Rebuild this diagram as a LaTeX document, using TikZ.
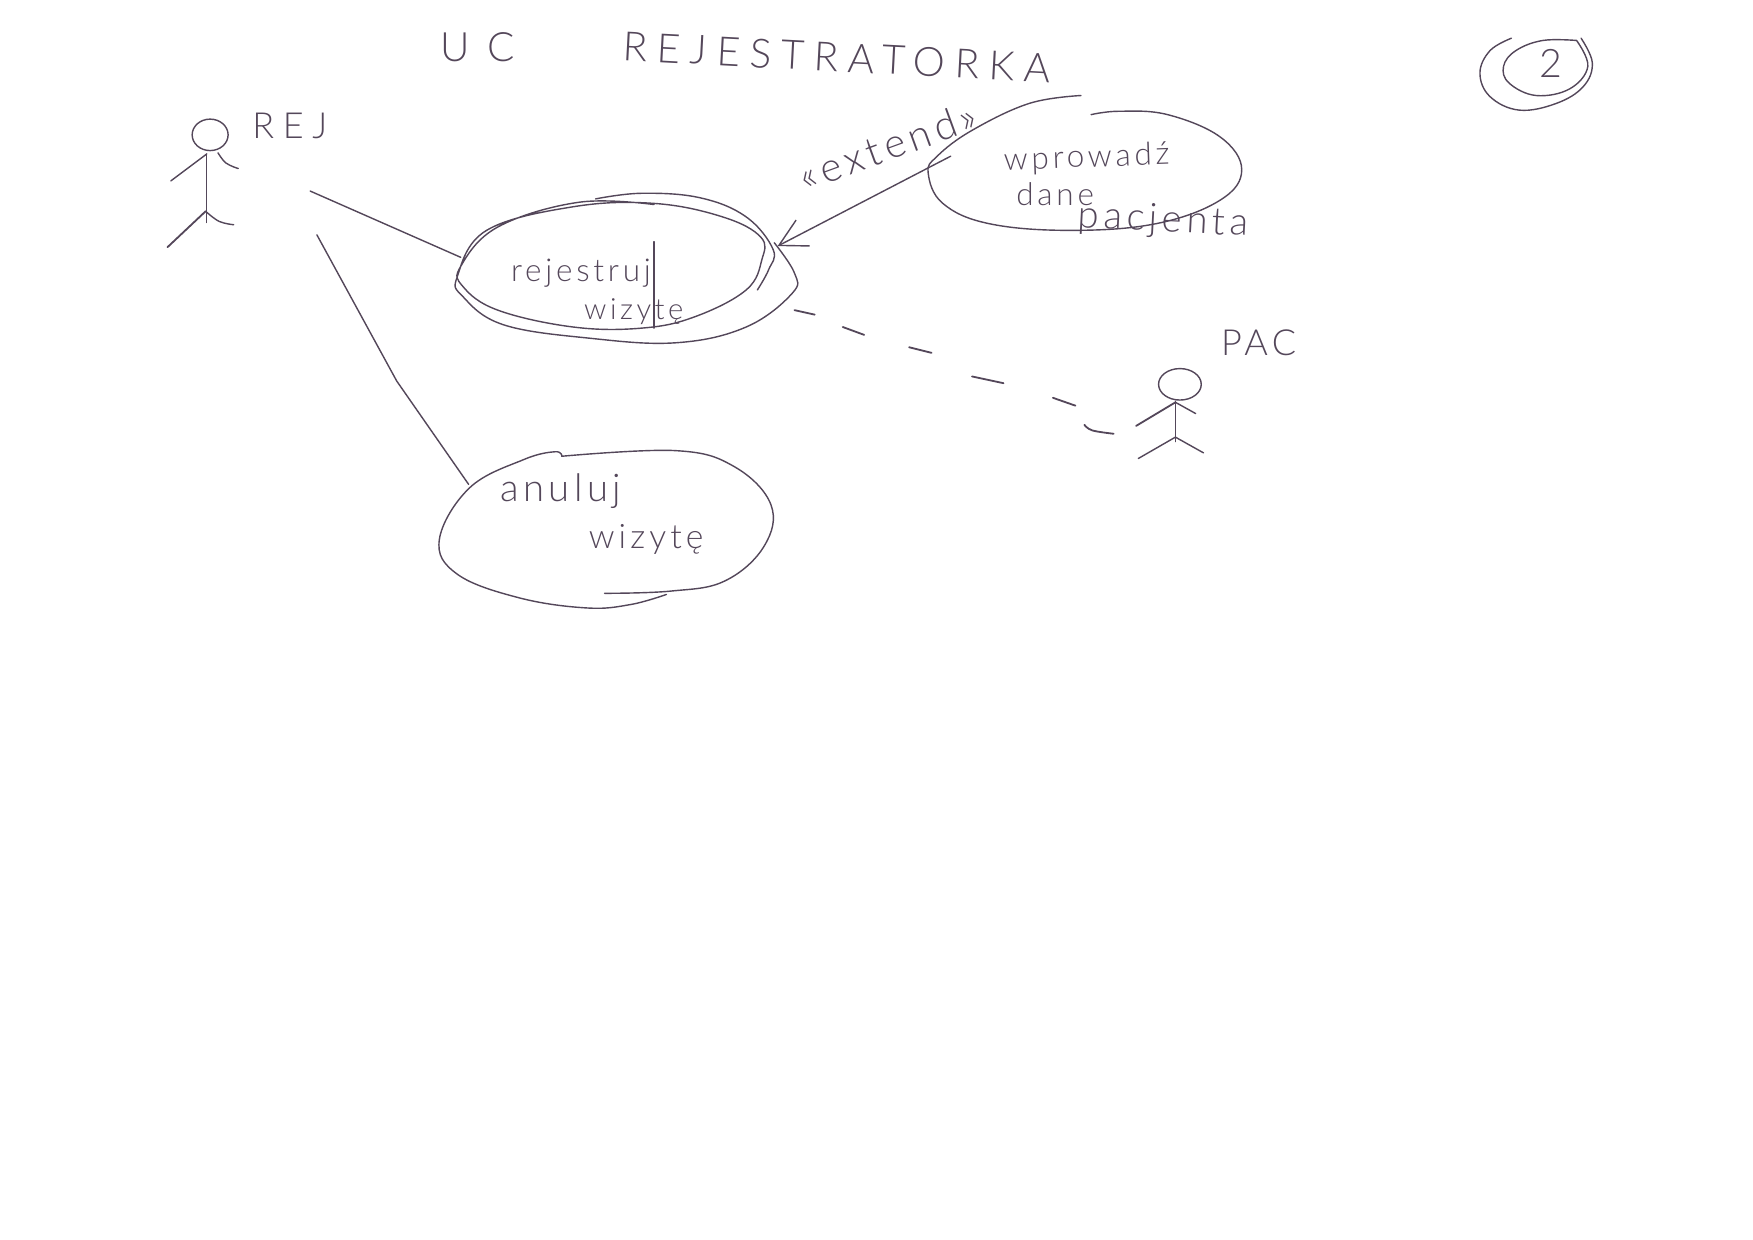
\documentclass[tikz,border=0pt]{standalone}
\usepackage{fontspec}
\setmainfont{Lato}[UprightFont=* Light]
\newfontfamily\spaced{Lato}[UprightFont=* Light,LetterSpace=24]
\newfontfamily\spacedwide{Lato}[UprightFont=* Light,LetterSpace=45]
\newfontfamily\loose{Lato}[UprightFont=* Light,LetterSpace=12]
\usetikzlibrary{arrows.meta}
\definecolor{pen}{HTML}{54475A}
\tikzset{
  x=1pt,y=-1pt,
  ink/.style={draw=pen,line width=1.25pt,line cap=round,line join=round},
  hand/.style={text=pen,inner sep=0pt,align=center},
  word/.style={hand,font=\loose\fontsize{#1}{#1}\selectfont},
  titletext/.style={hand,font=\spaced\fontsize{36}{36}\selectfont},
  tag/.style={hand,font=\spaced\fontsize{32}{32}\selectfont},
  curve/.style={smooth,tension=0.65},
  barb/.style={-{Straight Barb[length=24pt,width=26pt,line width=1.25pt]}}
}
\begin{document}
\begin{tikzpicture}
\useasboundingbox (0,0) rectangle (1560,1103.4);
\fill[white] (0,0) rectangle (1560,1103.4);
% title and page number
\node[hand,font=\spacedwide\fontsize{36}{36}\selectfont] (uc) at (425,42) {UC};
\node[titletext,rotate=-3] (title) at (745,51) {REJESTRATORKA};
\node[word=35] (pagenr) at (1380,56) {2};
\draw[ink] plot[curve] coordinates {(1345,34) (1326,45) (1317,65) (1326,86) (1352,98) (1385,92) (1409,77) (1417,56) (1407,34)};
\draw[ink] plot[curve] coordinates {(1403,36) (1373,36) (1349,45) (1338,59) (1343,74) (1367,85) (1397,79) (1413,59) (1403,36)};
% actor REJ
\node[tag] (rejlabel) at (258,112) {REJ};
\draw[ink] (187,120) ellipse [x radius=16,y radius=14];
\draw[ink] (184,137) -- (184,198);
\draw[ink] (152,161) -- (184,137);
\draw[ink] plot[curve] coordinates {(194,136) (201,145) (212,150)};
\draw[ink,line width=1.6pt] (149,220) -- (183,188);
\draw[ink] plot[curve] coordinates {(183,188) (195,197) (208,200)};
\coordinate (rejA) at (276,170);
\coordinate (rejB) at (282,209);
% use case: rejestruj
\node[word=28] (reg1) at (517,243) {rejestruj};
\node[word=26] (reg2) at (564,277) {wizytę};
\draw[ink] plot[curve] coordinates {(530,177) (571,172) (623,176) (664,193) (688,222) (684,240) (674,258)};
\draw[ink] plot[curve] coordinates {(689,216) (707,243) (705,261) (664,291) (602,305) (525,301) (448,289) (412,264) (407,246) (433,205) (510,184) (582,181) (643,193) (677,211) (678,231) (664,258) (618,282) (571,292) (510,291) (443,276) (412,255) (410,237) (443,202) (515,180) (582,182)};
\draw[ink,line width=1pt] (582,215) -- (582,292);
\coordinate (regW) at (410,229);
\coordinate (regE) at (692,219);
\coordinate (regS) at (707,276);
% use case: wprowadz dane pacjenta
\node[word=28,rotate=2] (in1) at (967,141) {wprowadź};
\node[word=28] (in2) at (939,173) {dane};
\node[word=34,rotate=-3] (in3) at (1035,197) {pacjenta};
\draw[ink] plot[curve] coordinates {(962,85) (916,92) (865,116) (834,139) (826,154) (839,181) (880,199) (952,205) (1029,199) (1086,178) (1105,151) (1086,122) (1039,102) (996,99) (971,102)};
\coordinate (inW) at (846,139);
\draw[ink,barb] (inW) -- (regE);
\node[word=36,rotate=20] (ext) at (790,130) {«extend»};
% use case: anuluj
\node[word=34] (an1) at (499,437) {anuluj};
\node[word=30] (an2) at (575,480) {wizytę};
\draw[ink] plot[curve] coordinates {(500,406) (601,401) (653,415) (686,449) (680,486) (645,517) (597,526) (538,528)};
\draw[ink] plot[curve] coordinates {(500,406) (494,402) (466,409) (418,434) (391,480) (407,511) (462,532) (522,541) (561,538) (593,529)};
\coordinate (anN) at (417,431);
\coordinate (anM) at (353,339);
% actor PAC
\node[word=32] (paclabel) at (1120,305) {PAC};
\draw[ink] (1050,342) ellipse [x radius=19,y radius=14];
\draw[ink] (1046,357) -- (1046,393);
\draw[ink,line width=1.6pt] (1011,379) -- (1046,358);
\draw[ink] (1046,358) -- (1064,368);
\draw[ink] (1013,408) -- (1046,389) -- (1071,403);
\coordinate (pacW) at (991,386);
% connectors
\draw[ink] (rejA) -- (regW);
\draw[ink] (rejB) -- (anM) -- (anN);
\coordinate (d1) at (725,280);
\coordinate (d2) at (750,291);
\coordinate (d3) at (769,298);
\coordinate (d4) at (809,309);
\coordinate (d5) at (829,314);
\coordinate (d6) at (865,335);
\coordinate (d7) at (893,341);
\coordinate (d8) at (937,354);
\coordinate (d9) at (957,361);
\coordinate (d10) at (965,378);
\draw[ink,line width=1.6pt] (regS) -- (d1) (d2) -- (d3) (d4) -- (d5) (d6) -- (d7) (d8) -- (d9);
\draw[ink,line width=1.6pt] plot[curve] coordinates {(d10) (972,383) (pacW)};
\end{tikzpicture}
\end{document}
